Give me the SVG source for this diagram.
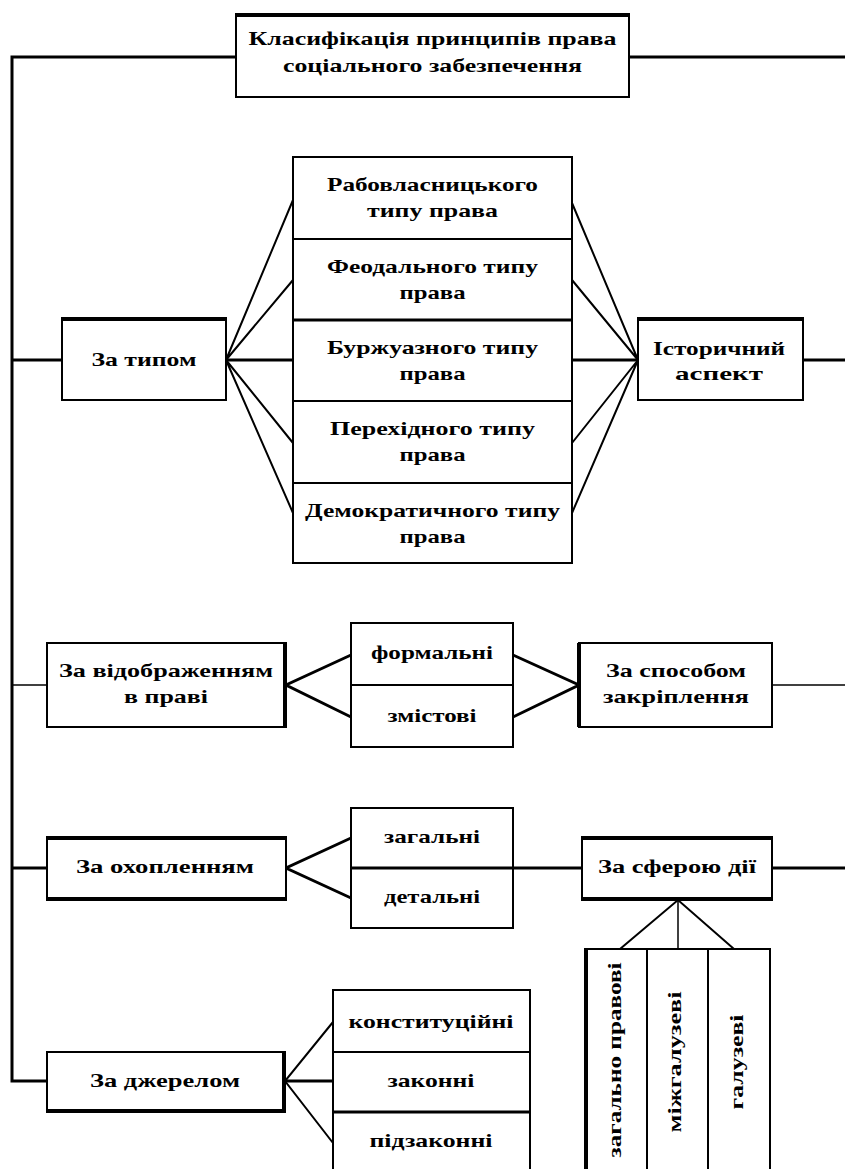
<svg xmlns="http://www.w3.org/2000/svg" width="845" height="1169" viewBox="0 0 845 1169">
<style>
.bx{fill:#fff;stroke:#000;stroke-width:2}
.t{font-family:"Liberation Serif","Times New Roman",serif;font-weight:bold;font-size:19px;fill:#000;text-anchor:middle}
.c3{stroke:#000;stroke-width:3;fill:none}
.c2{stroke:#000;stroke-width:2;fill:none}
.c1{stroke:#000;stroke-width:1.5;fill:none}
.thk{stroke:#000;stroke-width:4}
</style>
<rect width="845" height="1169" fill="#fff"/>
<g id="connectors">
<polyline class="c3" points="236,57 12,57 12,1081 47,1081"/>
<line class="c3" x1="629" y1="57" x2="845" y2="57"/>
<line class="c3" x1="12" y1="360" x2="62" y2="360"/>
<line class="c3" x1="226" y1="360" x2="293" y2="360"/>
<line class="c3" x1="572" y1="360" x2="638" y2="360"/>
<line class="c3" x1="803" y1="360" x2="845" y2="360"/>
<polyline class="c2" points="293,200 226,360 293,280"/>
<polyline class="c2" points="293,443 226,360 293,513"/>
<polyline class="c2" points="572,203 638,360 572,280"/>
<polyline class="c2" points="572,443 638,360 572,513"/>
<line class="c1" x1="12" y1="685" x2="47" y2="685"/>
<line class="c1" x1="772" y1="685" x2="845" y2="685"/>
<polyline class="c3" points="351,655 286,685 351,717"/>
<polyline class="c3" points="513,655 579,685 513,717"/>
<line class="c3" x1="12" y1="868" x2="47" y2="868"/>
<polyline class="c3" points="351,838 286,868 351,898"/>
<line class="c3" x1="513" y1="868" x2="582" y2="868"/>
<line class="c3" x1="772" y1="868" x2="845" y2="868"/>
<polyline class="c2" points="620,949 678,900 734,949"/>
<line class="c1" x1="678" y1="900" x2="678" y2="949"/>
<line class="c3" x1="285" y1="1081" x2="333" y2="1081"/>
<polyline class="c2" points="333,1022 285,1081 333,1143"/>
</g>
<g id="title">
<rect class="bx" x="236" y="14" width="393" height="83"/>
<line class="thk" x1="236" y1="15" x2="629" y2="15"/>
<text class="t" x="432.5" y="45" textLength="368" lengthAdjust="spacingAndGlyphs">Класифікація принципів права</text>
<text class="t" x="432.5" y="72" textLength="299" lengthAdjust="spacingAndGlyphs">соціального забезпечення</text>
</g>
<g id="stack-types">
<rect class="bx" x="293" y="157" width="279" height="82"/>
<rect class="bx" x="293" y="239" width="279" height="81"/>
<rect class="bx" x="293" y="320" width="279" height="81"/>
<rect class="bx" x="293" y="401" width="279" height="82"/>
<rect class="bx" x="293" y="483" width="279" height="80"/>
<line class="c3" x1="293" y1="320" x2="572" y2="320"/>
<text class="t" x="432.5" y="191" textLength="211" lengthAdjust="spacingAndGlyphs">Рабовласницького</text>
<text class="t" x="432.5" y="217" textLength="131" lengthAdjust="spacingAndGlyphs">типу права</text>
<text class="t" x="432.5" y="273" textLength="211" lengthAdjust="spacingAndGlyphs">Феодального типу</text>
<text class="t" x="432.5" y="299" textLength="66" lengthAdjust="spacingAndGlyphs">права</text>
<text class="t" x="432.5" y="354" textLength="211" lengthAdjust="spacingAndGlyphs">Буржуазного типу</text>
<text class="t" x="432.5" y="380" textLength="66" lengthAdjust="spacingAndGlyphs">права</text>
<text class="t" x="432.5" y="435" textLength="205" lengthAdjust="spacingAndGlyphs">Перехідного типу</text>
<text class="t" x="432.5" y="461" textLength="66" lengthAdjust="spacingAndGlyphs">права</text>
<text class="t" x="432.5" y="517" textLength="255" lengthAdjust="spacingAndGlyphs">Демократичного типу</text>
<text class="t" x="432.5" y="543" textLength="66" lengthAdjust="spacingAndGlyphs">права</text>
</g>
<g id="by-type">
<rect class="bx" x="62" y="318" width="164" height="82"/>
<line class="thk" x1="62" y1="319" x2="226" y2="319"/>
<text class="t" x="144" y="366" textLength="105" lengthAdjust="spacingAndGlyphs">За типом</text>
</g>
<g id="historical">
<rect class="bx" x="638" y="318" width="165" height="82"/>
<line class="thk" x1="638" y1="319" x2="803" y2="319"/>
<text class="t" x="719" y="355" textLength="132" lengthAdjust="spacingAndGlyphs">Історичний</text>
<text class="t" x="719" y="380" textLength="88" lengthAdjust="spacingAndGlyphs">аспект</text>
</g>
<g id="by-reflection">
<rect class="bx" x="47" y="643" width="239" height="84"/>
<line class="thk" x1="285" y1="643" x2="285" y2="727"/>
<text class="t" x="166" y="677" textLength="214" lengthAdjust="spacingAndGlyphs">За відображенням</text>
<text class="t" x="166" y="703" textLength="84" lengthAdjust="spacingAndGlyphs">в праві</text>
</g>
<g id="stack-form">
<rect class="bx" x="351" y="623" width="162" height="62"/>
<rect class="bx" x="351" y="685" width="162" height="62"/>
<text class="t" x="432" y="659" textLength="122" lengthAdjust="spacingAndGlyphs">формальні</text>
<text class="t" x="432" y="722" textLength="89" lengthAdjust="spacingAndGlyphs">змістові</text>
</g>
<g id="by-fixing">
<rect class="bx" x="579" y="643" width="193" height="84"/>
<line class="thk" x1="579" y1="643" x2="579" y2="727"/>
<text class="t" x="676" y="677" textLength="140" lengthAdjust="spacingAndGlyphs">За способом</text>
<text class="t" x="676" y="703" textLength="146" lengthAdjust="spacingAndGlyphs">закріплення</text>
</g>
<g id="by-coverage">
<rect class="bx" x="47" y="837" width="239" height="63"/>
<line class="thk" x1="47" y1="838" x2="286" y2="838"/>
<line class="thk" x1="47" y1="899" x2="286" y2="899"/>
<text class="t" x="165" y="873" textLength="178" lengthAdjust="spacingAndGlyphs">За охопленням</text>
</g>
<g id="stack-coverage">
<rect class="bx" x="351" y="808" width="162" height="60"/>
<rect class="bx" x="351" y="868" width="162" height="60"/>
<line class="c3" x1="351" y1="868" x2="513" y2="868"/>
<text class="t" x="432" y="843" textLength="96" lengthAdjust="spacingAndGlyphs">загальні</text>
<text class="t" x="432" y="903" textLength="96" lengthAdjust="spacingAndGlyphs">детальні</text>
</g>
<g id="by-sphere">
<rect class="bx" x="582" y="837" width="190" height="63"/>
<line class="thk" x1="582" y1="838" x2="772" y2="838"/>
<line class="thk" x1="582" y1="899" x2="772" y2="899"/>
<text class="t" x="677" y="873" textLength="158" lengthAdjust="spacingAndGlyphs">За сферою дії</text>
</g>
<g id="sphere-columns">
<rect class="bx" x="585" y="949" width="62" height="240"/>
<rect class="bx" x="647" y="949" width="61" height="240"/>
<rect class="bx" x="708" y="949" width="62" height="240"/>
<line class="thk" x1="586" y1="949" x2="586" y2="1169"/>
<text class="t" transform="translate(621,1060) rotate(-90)" textLength="195" lengthAdjust="spacingAndGlyphs">загально правові</text>
<text class="t" transform="translate(681,1062) rotate(-90)" textLength="141" lengthAdjust="spacingAndGlyphs">міжгалузеві</text>
<text class="t" transform="translate(743,1062) rotate(-90)" textLength="95" lengthAdjust="spacingAndGlyphs">галузеві</text>
</g>
<g id="by-source">
<rect class="bx" x="47" y="1052" width="238" height="60"/>
<line class="thk" x1="47" y1="1111" x2="285" y2="1111"/>
<line class="thk" x1="284" y1="1052" x2="284" y2="1112"/>
<text class="t" x="165" y="1087" textLength="150" lengthAdjust="spacingAndGlyphs">За джерелом</text>
</g>
<g id="stack-source">
<rect class="bx" x="333" y="990" width="197" height="62"/>
<rect class="bx" x="333" y="1052" width="197" height="60"/>
<rect class="bx" x="333" y="1112" width="197" height="80"/>
<line class="c3" x1="333" y1="1112" x2="530" y2="1112"/>
<text class="t" x="431" y="1028" textLength="165" lengthAdjust="spacingAndGlyphs">конституційні</text>
<text class="t" x="431" y="1087" textLength="87" lengthAdjust="spacingAndGlyphs">законні</text>
<text class="t" x="431" y="1147" textLength="123" lengthAdjust="spacingAndGlyphs">підзаконні</text>
</g>
</svg>
